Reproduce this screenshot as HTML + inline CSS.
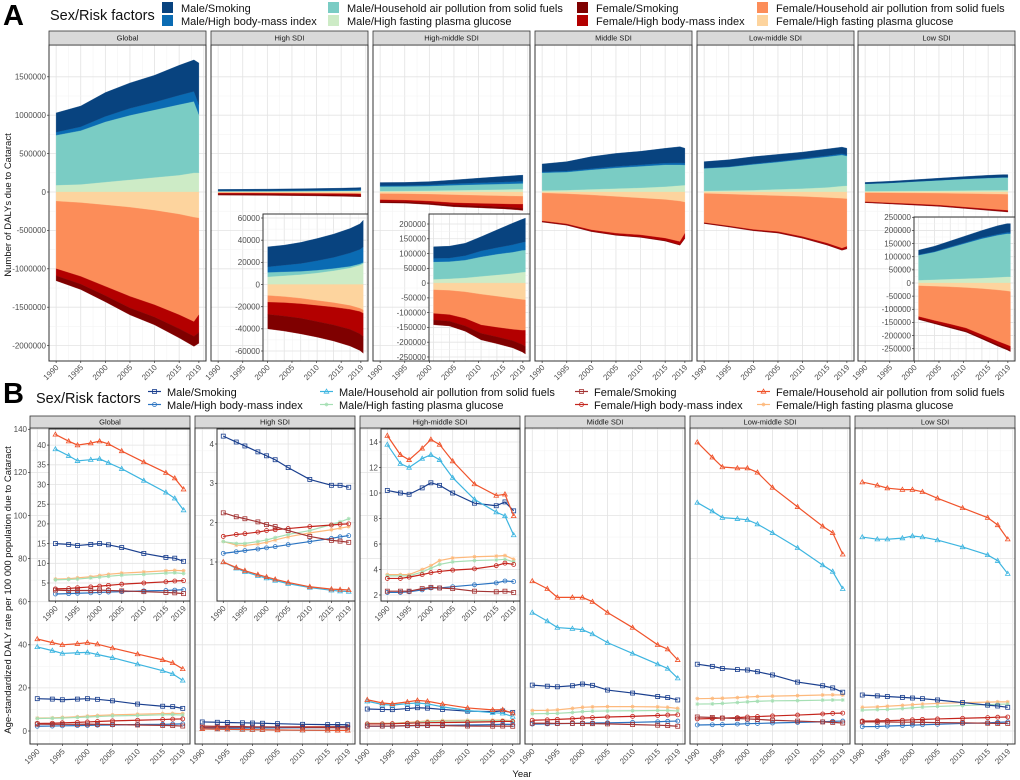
<!DOCTYPE html>
<html><head><meta charset="utf-8">
<style>
html,body{margin:0;padding:0;background:#fff;}
svg{display:block;font-family:"Liberation Sans",Arial,sans-serif;}
.tk{font-size:8px;fill:#4d4d4d;}
.st{font-size:7.5px;fill:#1a1a1a;}
.lg{font-size:11px;fill:#111;}
</style></head>
<body>
<svg id="fig" width="1020" height="780" viewBox="0 0 1020 780" xmlns="http://www.w3.org/2000/svg"></svg>
<script>
// ---------- DATA ----------
// series order: 0 Male/Smoking, 1 Male/High BMI, 2 Male/HAP, 3 Male/FPG, 4 Female/Smoking, 5 Female/High BMI, 6 Female/HAP, 7 Female/FPG
const seriesNames=["Male/Smoking","Male/High body-mass index","Male/Household air pollution from solid fuels","Male/High fasting plasma glucose","Female/Smoking","Female/High body-mass index","Female/Household air pollution from solid fuels","Female/High fasting plasma glucose"];
const regions=["Global","High SDI","High-middle SDI","Middle SDI","Low-middle SDI","Low SDI"];
const xTicks=[1990,1995,2000,2005,2010,2015,2019];
// Panel A: DALY counts (thousands)
const yearsA=[1990,1995,2000,2005,2010,2015,2018,2019];
const aGlobal=[[250,270,310,330,350,390,410,540],[40,50,70,90,100,120,130,130],[650,700,785,840,880,920,930,760],[90,100,130,160,190,220,250,250],[65,70,80,90,100,120,130,140],[90,100,120,150,160,180,190,230],[880,960,1060,1160,1230,1310,1360,1260],[120,140,170,200,240,290,330,340]];
const aHigh=[[18,18,19,20,21,22,23,24],[5,6,7,8.5,10,12,13,14],[4,3.5,3,2.5,2,1.5,1.2,1],[7,8,9,10.5,12.5,15,17.5,19],[13,13.5,14,14,14.5,15,15,15],[11,12,13,14.5,16,18,20,21],[6,5.5,5,4.5,4,3.5,3,3],[10,11,12.5,14.5,16.5,19,21.5,23]];
const aHighMiddle=[[39,40,42,48,60,73,78,80],[12,12,15,20,22,25,27,28],[59,58,60,66,70,72,74,74],[13,15,18,23,28,33,37,38],[16,16,18,22,23,24,25,25],[22,22,25,28,32,38,48,55],[80,82,90,104,105,105,104,103],[23,25,30,38,45,52,56,57]];
const aMiddle=[[102,122,155,170,175,192,210,193],[12,13,15,18,20,22,25,25],[231,235,255,270,280,285,270,262],[20,25,35,45,55,70,85,90],[6,6,6,6,6,6,6,6],[8,10,15,20,25,30,40,60],[364,392,455,478,480,503,527,406],[14,25,40,60,80,100,120,134]];
const aLowMiddle=[[82,89,92,90,83,86,86,85],[5,6,8,10,12,14,16,16],[293,305,335,355,380,400,405,387],[15,20,25,35,45,60,78,82],[6,6,6,6,6,6,6,6],[5,7,9,12,15,18,20,25],[380,413,450,467,522,593,648,620],[20,30,40,50,60,75,85,90]];
const aLow=[[17,20,22,25,27,32,33,33],[2,2,3,3,4,4,5,5],[95,105,120,135,150,160,164,164],[11,13,15,17,19,22,24,24],[4,4,5,5,5,6,6,6],[7,8,9,10,11,12,13,14],[117,130,142,154,175,195,205,208],[11,13,15,18,22,27,31,33]];
const aYTicks=[1500000,1000000,500000,0,-500000,-1000000,-1500000,-2000000];
const aInsetTicksHigh=[60000,40000,20000,0,-20000,-40000,-60000];
const aInsetTicksHM=[200000,150000,100000,50000,0,-50000,-100000,-150000,-200000,-250000];
const aInsetTicksLow=[250000,200000,150000,100000,50000,0,-50000,-100000,-150000,-200000,-250000];
// Panel B: age-standardized DALY rate per 100 000
const yearsB=[1990,1993,1995,1998,2000,2002,2005,2010,2015,2017,2019];
const bGlobal=[[15,14.8,14.5,14.8,15,14.7,14,12.5,11.5,11.3,10.5],[2.2,2.3,2.4,2.5,2.6,2.7,2.8,3,3.1,3.2,3.3],[39,37.3,36,36.3,36.5,35.5,34,31,28,26.5,23.5],[5.8,5.9,6,6.3,6.5,6.7,7,7.2,7.5,7.6,7.4],[3.2,3.1,3.1,3.1,3.2,3.1,3,2.8,2.6,2.5,2.3],[3.5,3.6,3.8,4,4.2,4.4,4.7,5,5.3,5.5,5.6],[42.7,41,40,40.5,41,40.3,38.5,35.7,33,31.6,28.8],[6,6.1,6.3,6.6,6.9,7.2,7.5,7.8,8.1,8.2,8.1]];
const bHigh=[[4.2,4.05,3.95,3.8,3.7,3.6,3.4,3.1,2.95,2.95,2.9],[1.22,1.26,1.29,1.33,1.36,1.39,1.44,1.52,1.6,1.64,1.67],[1,0.84,0.75,0.65,0.59,0.53,0.45,0.35,0.28,0.26,0.25],[1.52,1.47,1.47,1.52,1.56,1.62,1.7,1.8,1.95,2.02,2.1],[2.25,2.15,2.1,2.02,1.95,1.9,1.8,1.65,1.55,1.53,1.5],[1.65,1.7,1.72,1.76,1.8,1.82,1.85,1.9,1.94,1.96,1.97],[1,0.86,0.78,0.68,0.62,0.56,0.48,0.37,0.31,0.3,0.29],[1.52,1.43,1.42,1.46,1.5,1.56,1.64,1.74,1.82,1.86,1.9]];
const bHighMiddle=[[10.2,10,9.9,10.4,10.8,10.6,10,9.2,9,9.3,8.6],[2.2,2.2,2.25,2.4,2.55,2.55,2.65,2.8,2.95,3.1,3.05],[13.8,12.3,12,12.7,13,12.6,11.2,9.5,8.5,8.2,6.7],[3.5,3.5,3.5,3.8,4.1,4.4,4.6,4.7,4.75,4.8,4.6],[2.3,2.3,2.3,2.5,2.6,2.55,2.5,2.3,2.25,2.3,2.2],[3.3,3.3,3.4,3.6,3.75,3.85,3.95,4.05,4.3,4.5,4.4],[14.5,13,12.6,13.5,14.2,13.8,12.5,10.7,9.8,9.9,8.2],[3.6,3.6,3.6,4,4.3,4.7,4.9,5,5.05,5.1,4.8]];
const bMiddle=[[21.3,20.8,20.5,21,21.8,21.2,19,17.6,16,15.5,14.4],[3.2,3.3,3.4,3.5,3.6,3.7,3.8,4,4.3,4.5,4.6],[55,51,48,47.5,47,45,41,36,31,29,24.5],[8,8.1,8.2,8.6,9,9.2,9.3,9.4,9.5,9.5,9.3],[3.6,3.6,3.5,3.5,3.5,3.4,3.3,3,2.7,2.5,2.2],[5,5.2,5.4,5.7,6,6.2,6.5,6.8,7.2,7.4,7.5],[69.6,66,62,62,62,60,55,48,40,38,33],[9.5,9.6,9.8,10.5,11,11.2,11.3,11.3,11.2,11,10.5]];
const bLowMiddle=[[31,30,29,28.5,28.3,27.5,26,22.7,21,20,18],[2.8,2.9,3,3.2,3.4,3.5,3.7,4,4.3,4.5,4.6],[106,102,99,98.5,98,96,92,85,77,74,66],[12.5,12.6,12.8,13.2,13.5,13.8,14,14.1,14.3,14.4,14.4],[6.5,6.3,6,5.8,5.6,5.4,5,4.6,4.2,4,3.7],[5.6,5.8,6,6.2,6.5,6.7,7,7.4,7.9,8.2,8.3],[134,127,122.5,122,122,120,113,104,95,92,82],[15,15.1,15.2,15.5,15.8,16,16.2,16.4,16.7,16.8,16.7]];
const bLow=[[16.7,16.3,16,15.6,15.3,15,14.4,13.2,12,11.6,11],[2,2.1,2.3,2.5,2.7,2.9,3.1,3.5,3.8,4,4.2],[90,89,89,89.5,90.5,90,88.6,85.4,81.7,79,73],[9.7,9.9,10,10.4,10.8,11.1,11.4,11.8,12.2,12.4,12.5],[4.2,4.2,4.2,4.1,4.1,4,3.9,3.8,3.6,3.5,3.5],[4.6,4.7,4.8,5,5.2,5.4,5.6,5.9,6.2,6.4,6.5],[115.5,114,112.7,112,112,111,108,103.5,99,95.6,89],[11,11.2,11.5,11.9,12.2,12.5,12.8,13.2,13.4,13.5,13.5]];
const bYTicks=[0,20,40,60,80,100,120,140];
const bInsetTicksGlobal=[5,10,15,20,25,30,35,40];
const bInsetTicksHigh=[1,2,3,4];
const bInsetTicksHM=[2,4,6,8,10,12,14];

// ---------- STYLE ----------
const fillA=["#08437f","#0a6bb3","#7accc4","#cdebc6","#7f0000","#b30000","#fc8d59","#fdd49e"];
const lineB=["#1a3f8e","#2a73c1","#3db5e0","#a6dfb4","#a33434","#c4251d","#f0532b","#fdb97c"];
const markB=["sq","ci","tr","as","sq","ci","tr","as"];

const NS="http://www.w3.org/2000/svg";
const svg=document.getElementById("fig");
function el(tag,attrs,parent,text){const e=document.createElementNS(NS,tag);for(const k in attrs)e.setAttribute(k,attrs[k]);if(text!==undefined)e.textContent=text;(parent||svg).appendChild(e);return e;}
function lin(d0,d1,r0,r1){return v=>r0+(v-d0)*(r1-r0)/(d1-d0);}
function xScale(x0,x1){return lin(1988.55,2020.45,x0,x1);}

function grid(g,x0,x1,y0,y1,ys,ticks){
  const xs=xScale(x0,x1);
  for(let yr=1987.5;yr<2021;yr+=2.5){const X=xs(yr);if(X<=x0||X>=x1)continue;const major=(yr%5===0);
    const l=el("line",{x1:X,x2:X,y1:y0,y2:y1,stroke:major?"#e3e3e3":"#f2f2f2","stroke-width":major?0.8:0.5},g);
    }
  for(let i=0;i<ticks.length;i++){const Y=ys(ticks[i]);if(Y>y0&&Y<y1){const l=el("line",{x1:x0,x2:x1,y1:Y,y2:Y,stroke:"#e3e3e3","stroke-width":0.8},g);}
    if(i<ticks.length-1){const Ym=ys((ticks[i]+ticks[i+1])/2);if(Ym>y0&&Ym<y1){const m=el("line",{x1:x0,x2:x1,y1:Ym,y2:Ym,stroke:"#f2f2f2","stroke-width":0.5},g);}}}
}
function yLabels(g,xr,ys,ticks,fmt){for(const t of ticks){const Y=ys(t);
  const tl=el("line",{x1:xr-2,x2:xr,y1:Y,y2:Y,stroke:"#333","stroke-width":0.7},g);
  const tx=el("text",{x:xr-3,y:Y+2.8,"text-anchor":"end",class:"tk"},g,fmt?fmt(t):String(t));}}
function xLabels(g,x0,x1,yb,ty){const xs=xScale(x0,x1);for(const t of xTicks){const X=xs(t);
  const tl=el("line",{x1:X,x2:X,y1:yb,y2:yb+2,stroke:"#333","stroke-width":0.7},g);
  const tx=el("text",{x:X+3,y:ty,"text-anchor":"end",class:"tk",transform:`rotate(-45 ${X+3} ${ty})`},g,String(t));}}
function frame(g,x0,x1,y0,y1){const r=el("rect",{x:x0,y:y0,width:x1-x0,height:y1-y0,fill:"none",stroke:"#333","stroke-width":1},g);}
function strip(g,x0,x1,y0,y1,label){const r=el("rect",{x:x0,y:y0,width:x1-x0,height:y1-y0,fill:"#d9d9d9",stroke:"#333","stroke-width":0.8},g);
  const t=el("text",{x:(x0+x1)/2,y:y0+(y1-y0)/2+2.7,"text-anchor":"middle",class:"st"},g,label);}

function stackAreas(g,data,x0,x1,ys,unit){
  const xs=xScale(x0,x1);
  const stacks=[[3,2,1,0],[7,6,5,4]];
  stacks.forEach((order,si)=>{const sign=si===0?1:-1;let base=yearsA.map(()=>0);
    for(const s of order){const top=base.map((b,i)=>b+data[s][i]*unit);
      let pts=yearsA.map((yr,i)=>xs(yr)+","+ys(sign*top[i]));
      pts=pts.concat(yearsA.map((yr,i)=>xs(yr)+","+ys(sign*base[i])).reverse());
      const p=el("polygon",{points:pts.join(" "),fill:fillA[s],stroke:fillA[s],"stroke-width":0.3},g);
      
      
      base=top;}});
}
function marker(g,type,X,Y,c){let m;
  if(type==="sq")m=el("rect",{x:X-2,y:Y-2,width:4,height:4,fill:"none",stroke:c,"stroke-width":0.8},g);
  else if(type==="ci")m=el("circle",{cx:X,cy:Y,r:2,fill:"none",stroke:c,"stroke-width":0.8},g);
  else if(type==="tr")m=el("polygon",{points:`${X},${Y-2.4} ${X-2.3},${Y+1.7} ${X+2.3},${Y+1.7}`,fill:"none",stroke:c,"stroke-width":0.8},g);
  else m=el("path",{d:`M${X-2},${Y}H${X+2}M${X},${Y-2}V${Y+2}M${X-1.5},${Y-1.5}L${X+1.5},${Y+1.5}M${X-1.5},${Y+1.5}L${X+1.5},${Y-1.5}`,stroke:c,"stroke-width":0.7},g);
  return m;}
function lines(g,data,x0,x1,ys){const xs=xScale(x0,x1);
  for(const s of [7,3,5,1,4,0,2,6]){const c=lineB[s];
    const pl=el("polyline",{points:yearsB.map((yr,i)=>xs(yr)+","+ys(data[s][i])).join(" "),fill:"none",stroke:c,"stroke-width":1.2},g);
    
    
    yearsB.forEach((yr,i)=>{const m=marker(g,markB[s],xs(yr),ys(data[s][i]),c);
      
      });}}

// ---------- PANEL A ----------
const aData=[aGlobal,aHigh,aHighMiddle,aMiddle,aLowMiddle,aLow];
const aX=[49,211,373,535,697,858];const aW=157;
const aTop=45,aBot=361;
const aYs=lin(0,500000,192,153.6);
aData.forEach((d,i)=>{const g=el("g",{});
  const x0=aX[i],x1=x0+aW;
  el("rect",{x:x0,y:aTop,width:aW,height:aBot-aTop,fill:"#fff"},g);
  grid(g,x0,x1,aTop,aBot,aYs,aYTicks);
  stackAreas(g,d,x0,x1,aYs,1000);
  frame(g,x0,x1,aTop,aBot);strip(g,x0,x1,31,45,regions[i]);
  xLabels(g,x0,x1,aBot,368);
  if(i===0)yLabels(g,x0,aYs,aYTicks);
});
// A insets
const aInsets=[[aHigh,263,368,214,lin(0,60000,284.5,218),aInsetTicksHigh],[aHighMiddle,429,530,214,lin(0,200000,283.1,224),aInsetTicksHM],[aLow,914,1015,217,lin(0,250000,283,217.3),aInsetTicksLow]];
aInsets.forEach(([d,x0,x1,y0,ys,tk])=>{const g=el("g",{});
  el("rect",{x:x0,y:y0,width:x1-x0,height:aBot-y0,fill:"#fff"},g);
  grid(g,x0,x1,y0,aBot,ys,tk);stackAreas(g,d,x0,x1,ys,1000);frame(g,x0,x1,y0,aBot);yLabels(g,x0,ys,tk);});

// ---------- PANEL B ----------
const bData=[bGlobal,bHigh,bHighMiddle,bMiddle,bLowMiddle,bLow];
const bX=[30,195,360,525,690,855];const bW=160;
const bTop=428,bBot=744;
const bYs=lin(0,20,731,687.9);
bData.forEach((d,i)=>{const g=el("g",{});
  const x0=bX[i],x1=x0+bW;
  el("rect",{x:x0,y:bTop,width:bW,height:bBot-bTop,fill:"#fff"},g);
  grid(g,x0,x1,bTop,bBot,bYs,bYTicks);
  lines(g,d,x0,x1,bYs);
  frame(g,x0,x1,bTop,bBot);strip(g,x0,x1,416,428,regions[i]);
  xLabels(g,x0,x1,bBot,752);
  if(i===0)yLabels(g,x0,bYs,bYTicks);
});
const bInsets=[[bGlobal,49,190,lin(0,5,602.7,583),bInsetTicksGlobal],[bHigh,217,355,lin(1,4,562,444),bInsetTicksHigh],[bHighMiddle,381,520,lin(2,14,595,442),bInsetTicksHM]];
bInsets.forEach(([d,x0,x1,ys,tk])=>{const g=el("g",{});
  el("rect",{x:x0,y:429,width:x1-x0,height:172,fill:"#fff"},g);
  grid(g,x0,x1,429,601,ys,tk);
  const cp=el("clipPath",{id:"c"+x0},g);el("rect",{x:x0,y:429,width:x1-x0,height:172},cp);
  const gg=el("g",{"clip-path":`url(#c${x0})`},g);
  lines(gg,d,x0,x1,ys);frame(g,x0,x1,429,601);yLabels(g,x0,ys,tk);xLabels(g,x0,x1,601,609);});

// ---------- AXIS TITLES ----------
let t=el("text",{x:0,y:0,transform:"translate(11 205) rotate(-90)","text-anchor":"middle","font-size":"9.5",fill:"#111"},svg,"Number of DALYs due to Cataract");

t=el("text",{x:0,y:0,transform:"translate(11 590) rotate(-90)","text-anchor":"middle","font-size":"9.5",fill:"#111"},svg,"Age-standardized DALY rate per 100 000 population due to Cataract");

t=el("text",{x:522,y:777,"text-anchor":"middle","font-size":"9.5",fill:"#111"},svg,"Year");


// ---------- LEGENDS ----------
function legend(yRow1,label,letter,isB,cols,txtOff,titleX,letterY,titleY){
  const g=el("g",{});
  const L=el("text",{x:3,y:letterY,"font-size":"29","font-weight":"bold",fill:"#000"},g,letter);
  const T=el("text",{x:titleX,y:titleY,"font-size":"14.5",fill:"#111"},g,label);
  const order=[[0,1],[2,3],[4,5],[6,7]];
  order.forEach((pair,ci)=>pair.forEach((s,ri)=>{const kx=cols[ci],ky=yRow1+ri*13;
    const eg=el("g",{},g);
    if(!isB){el("rect",{x:kx,y:ky,width:11,height:11,fill:fillA[s]},eg);}
    else{el("line",{x1:kx,x2:kx+13,y1:ky+5.5,y2:ky+5.5,stroke:lineB[s],"stroke-width":1.2},eg);marker(eg,markB[s],kx+6.5,ky+5.5,lineB[s]);}
    el("text",{x:kx+txtOff,y:ky+9.8,class:"lg"},eg,seriesNames[s]);}));
}
legend(2,"Sex/Risk factors","A",false,[162,328,577,757],19,50,25,20);
legend(386,"Sex/Risk factors","B",true,[148,320,575,757],19,36,403,403);
</script>
</body></html>
